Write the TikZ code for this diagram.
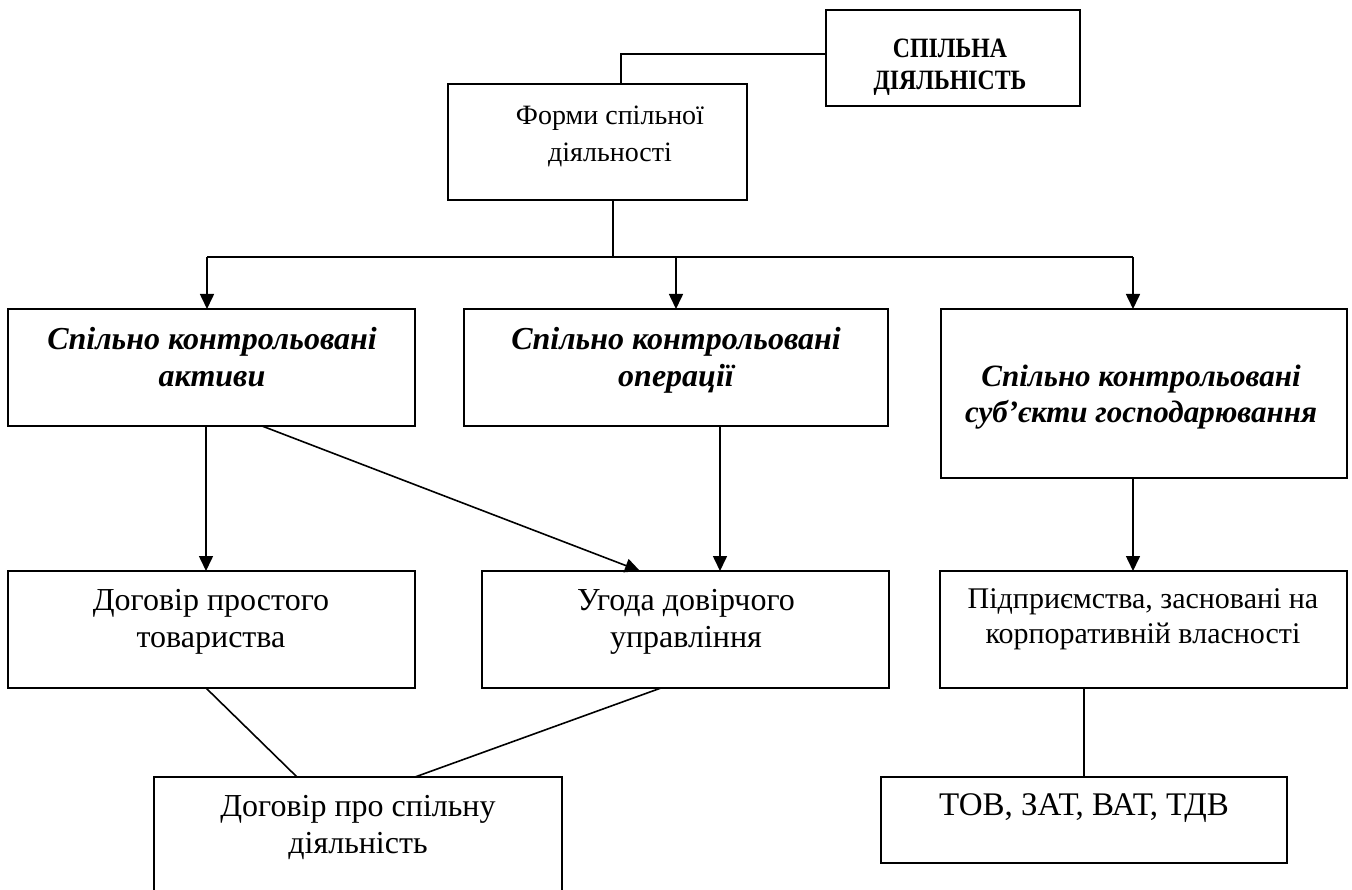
\documentclass[tikz,border=0pt]{standalone}
\usepackage{fontspec}
\setmainfont{Liberation Serif}
\newfontfamily\condfam[FakeStretch=0.85]{Liberation Serif}
\usetikzlibrary{arrows.meta}
\begin{document}
\begin{tikzpicture}[x=1pt,y=-1pt,line width=1.6pt,
  box/.style={draw,rectangle,inner sep=0pt,outer sep=0pt},
  txt/.style={inner sep=0pt,outer sep=0pt,align=center,anchor=base,font=\fontsize{32}{37}\selectfont},
  itx/.style={txt,font=\fontsize{32}{37}\selectfont\bfseries\itshape},
  arr/.style={-{Triangle[length=15pt,width=14pt]}},
  ln/.style={-}]
\useasboundingbox (0,0) rectangle (1352,890);
% boxes
\node[box,minimum width=254pt,minimum height=96pt] (T) at (953,58) {};
\node[box,minimum width=299pt,minimum height=116pt] (F) at (597.5,142) {};
\node[box,minimum width=407pt,minimum height=117pt] (A) at (211.5,367.5) {};
\node[box,minimum width=424pt,minimum height=117pt] (B) at (676,367.5) {};
\node[box,minimum width=406pt,minimum height=169pt] (C) at (1144,393.5) {};
\node[box,minimum width=407pt,minimum height=117pt] (D) at (211.5,629.5) {};
\node[box,minimum width=407pt,minimum height=117pt] (E) at (685.5,629.5) {};
\node[box,minimum width=407pt,minimum height=117pt] (P) at (1143.5,629.5) {};
\node[box,minimum width=406pt,minimum height=86pt] (G) at (1084,820) {};
\node[box,minimum width=408pt,minimum height=120pt] (H) at (358,837) {};
% texts (anchor = baseline of the last line)
\node[txt,font=\fontsize{28}{32}\selectfont\condfam\bfseries] (Tt) at (950,90) {СПІЛЬНА\\ДІЯЛЬНІСТЬ};
\node[txt,font=\fontsize{28}{37}\selectfont] (Ft) at (610,162) {Форми спільної\\діяльності};
\node[itx] (At) at (212,387) {Спільно контрольовані\\активи};
\node[itx] (Bt) at (676,387) {Спільно контрольовані\\операції};
\node[itx,font=\fontsize{31}{36}\selectfont\bfseries\itshape] (Ct) at (1141,423) {Спільно контрольовані\\суб’єкти господарювання};
\node[txt] (Dt) at (211,647) {Договір простого\\товариства};
\node[txt] (Et) at (686,647) {Угода довірчого\\управління};
\node[txt,font=\fontsize{30}{35}\selectfont] (Pt) at (1143,643) {Підприємства, засновані на\\корпоративній власності};
\node[txt,font=\fontsize{33}{37}\selectfont] (Gt) at (1084,815) {ТОВ, ЗАТ, ВАТ, ТДВ};
\node[txt] (Ht) at (358,853) {Договір про спільну\\діяльність};
% connectors
\coordinate (bus) at (613,257);
\coordinate (ja) at (207,257);
\coordinate (jc) at (1133,257);
\coordinate (tc) at (621,54);
\draw[ln] ([yshift=4pt]T.west) -- (tc) -- (tc |- F.north);
\draw[ln] (F.south -| bus) -- (bus);
\draw[ln] (ja) -- (jc);
\draw[arr] (ja) -- (ja |- A.north);
\draw[arr] (bus -| B.north) -- (B.north);
\draw[arr] (jc) -- (jc |- C.north);
\draw[arr] ([xshift=-5.5pt]A.south) -- ([xshift=-5.5pt]D.north);
\draw[arr] ([xshift=50.5pt]A.south) -- ([xshift=-45.5pt]E.north);
\draw[arr] ([xshift=44pt]B.south) -- ([xshift=44pt]B.south |- E.north);
\draw[arr] ([xshift=-11pt]C.south) -- ([xshift=-11pt]C.south |- P.north);
\draw[ln] (P.south -| G.north) -- (G.north);
\draw[ln] ([xshift=-5.5pt]D.south) -- ([xshift=-61pt]H.north);
\draw[ln] ([xshift=-24.5pt]E.south) -- ([xshift=57pt]H.north);
\end{tikzpicture}
\end{document}
